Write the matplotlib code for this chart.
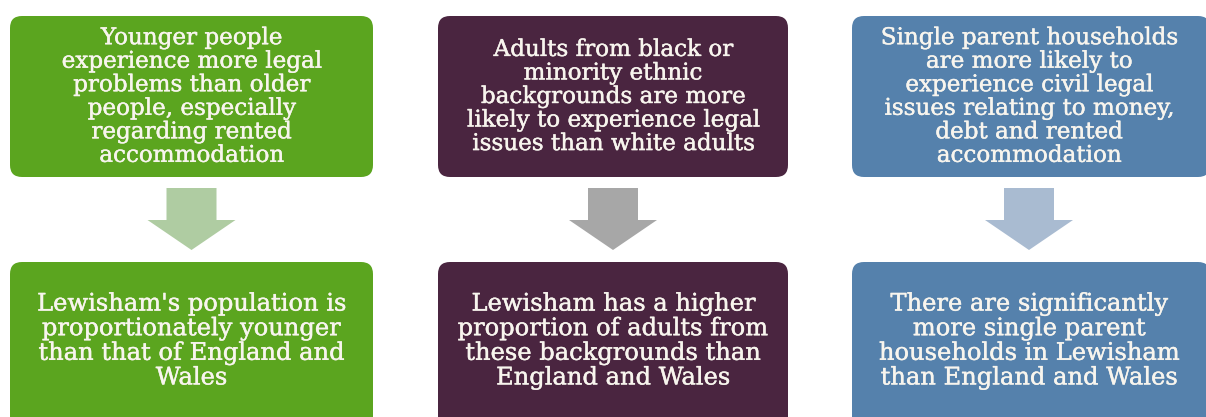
import matplotlib.pyplot as plt
import matplotlib.patheffects as pe
from matplotlib.patches import FancyBboxPatch, FancyArrow

# box texts, one column per group
top_texts = [
    "Younger people\nexperience more legal\nproblems than older\npeople, especially\nregarding rented\naccommodation",
    "Adults from black or\nminority ethnic\nbackgrounds are more\nlikely to experience legal\nissues than white adults",
    "Single parent households\nare more likely to\nexperience civil legal\nissues relating to money,\ndebt and rented\naccommodation",
]
bottom_texts = [
    "Lewisham's population is\nproportionately younger\nthan that of England and\nWales",
    "Lewisham has a higher\nproportion of adults from\nthese backgrounds than\nEngland and Wales",
    "There are significantly\nmore single parent\nhouseholds in Lewisham\nthan England and Wales",
]
box_colors = ["#5ba51f", "#4a2540", "#5581ac"]
arrow_colors = ["#afcca2", "#a7a7a7", "#a9bbd1"]
col_left = [10, 438, 852]
col_right = [373, 788, 1210]

fig = plt.figure(figsize=(12.06, 4.17), dpi=100)
ax = fig.add_axes([0, 0, 1, 1])
ax.set_xlim(0, 1206)
ax.set_ylim(417, 0)
ax.axis("off")

txt_color = "#f8f5ee"
thick = [pe.withStroke(linewidth=0.3, foreground=txt_color)]

r = 12
for i in range(3):
    x0, x1 = col_left[i], col_right[i]
    w = x1 - x0
    # top box
    ax.add_patch(FancyBboxPatch((x0 + r, 16 + r), w - 2 * r, 161 - 2 * r,
                                boxstyle="round,pad=%d" % r, fc=box_colors[i], ec="none"))
    # bottom box, runs off the bottom edge
    ax.add_patch(FancyBboxPatch((x0 + r, 262 + r), w - 2 * r, 170 - 2 * r,
                                boxstyle="round,pad=%d" % r, fc=box_colors[i], ec="none"))
    cx = (x0 + min(x1, 1206)) / 2
    ax.text(cx, 97, top_texts[i], ha="center", va="center", color=txt_color,
            family="DejaVu Serif", fontsize=16.6, linespacing=1.09, path_effects=thick)
    ax.text(cx, 341, bottom_texts[i], ha="center", va="center", color=txt_color,
            family="DejaVu Serif", fontsize=17.4, linespacing=1.09, path_effects=thick)
    # arrow
    ax.add_patch(FancyArrow(cx, 188, 0, 62, width=50, head_width=88, head_length=30,
                            length_includes_head=True, fc=arrow_colors[i], ec="none"))

fig.savefig("out.png", dpi=100)
